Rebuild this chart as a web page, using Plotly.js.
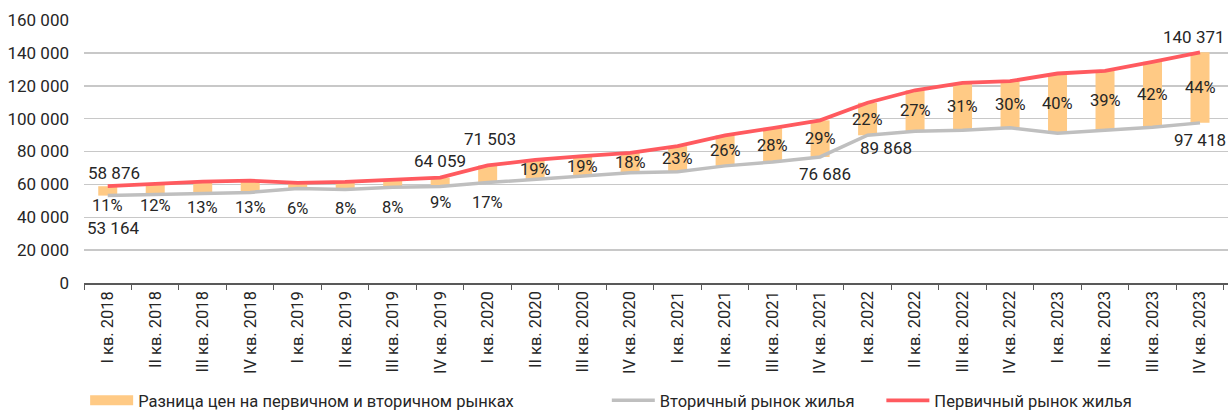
<!DOCTYPE html>
<html>
<head>
<meta charset="utf-8">
<script src="https://cdn.plot.ly/plotly-3.0.1.min.js"></script>
<style>
  html, body { margin: 0; padding: 0; background: #fff; }
  #grafico { width: 1231px; height: 413px; }
</style>
</head>
<body>
<div id="grafico"></div>
<script>
// ---------------------------------------------------------------------
// DATOS
// ---------------------------------------------------------------------
const kvartaly = [
  "I кв. 2018", "II кв. 2018", "III кв. 2018", "IV кв. 2018",
  "I кв. 2019", "II кв. 2019", "III кв. 2019", "IV кв. 2019",
  "I кв. 2020", "II кв. 2020", "III кв. 2020", "IV кв. 2020",
  "I кв. 2021", "II кв. 2021", "III кв. 2021", "IV кв. 2021",
  "I кв. 2022", "II кв. 2022", "III кв. 2022", "IV кв. 2022",
  "I кв. 2023", "II кв. 2023", "III кв. 2023", "IV кв. 2023",
];

// первичный рынок (руб./кв. м)
const pervichnyi = [
  58876, 60460, 61680, 62290, 60900, 61490, 62900, 64059,
  71503, 74900, 77140, 79200, 83260, 89770, 94240, 98925,
  109640, 117250, 121700, 122750, 127450, 129040, 134540, 140371,
];

// вторичный рынок (руб./кв. м)
const vtorichnyi = [
  53164, 53980, 54580, 55120, 57450, 56935, 58240, 58770,
  61110, 62940, 64820, 67120, 67690, 71250, 73630, 76686,
  89868, 92320, 92900, 94420, 91040, 92830, 94750, 97418,
];

// разница, %
const raznicaPct = [
  11, 12, 13, 13, 6, 8, 8, 9,
  17, 19, 19, 18, 23, 26, 28, 29,
  22, 27, 31, 30, 40, 39, 42, 44,
];

// подписи значений: индекс квартала, ряд
const podpisiPerv = [0, 7, 8, 23];
const podpisiVtor = [0, 15, 16, 23];

// ---------------------------------------------------------------------
// ESTILO
// ---------------------------------------------------------------------
const FUENTE = "Roboto, 'Open Sans', sans-serif";
const COLOR_TEXTO = "#262626";
const COLOR_BARRA = "#FFCA85";
const COLOR_ROJO = "#FF5A5F";
const COLOR_GRIS = "#BFBFBF";

const fmtMiles = (v) => String(Math.round(v)).replace(/\B(?=(\d{3})+(?!\d))/g, " ");

// ---------------------------------------------------------------------
// TRAZAS
// ---------------------------------------------------------------------
const trazaRaznica = {
  type: "bar",
  x: kvartaly,
  y: pervichnyi.map((p, i) => p - vtorichnyi[i]),
  base: vtorichnyi,
  width: 0.4,
  marker: { color: COLOR_BARRA },
  showlegend: false,
  hoverinfo: "skip",
};

// solo para la leyenda (muestra franja ancha como en el original)
const trazaLeyendaRaznica = {
  type: "scatter",
  mode: "lines",
  x: [null],
  y: [null],
  name: "Разница цен на первичном и вторичном рынках",
  line: { color: COLOR_BARRA, width: 10 },
  legend: "legend",
};

const trazaVtor = {
  type: "scatter",
  mode: "lines",
  x: kvartaly,
  y: vtorichnyi,
  name: "Вторичный рынок жилья",
  line: { color: COLOR_GRIS, width: 3.5 },
  legend: "legend2",
};

const trazaPerv = {
  type: "scatter",
  mode: "lines",
  x: kvartaly,
  y: pervichnyi,
  name: "Первичный рынок жилья",
  line: { color: COLOR_ROJO, width: 3.8 },
  legend: "legend3",
};

// ---------------------------------------------------------------------
// ANOTACIONES
// ---------------------------------------------------------------------
const fuenteEtiqueta = { family: FUENTE, size: 17, color: COLOR_TEXTO };
const fuentePct = { family: FUENTE, size: 16.5, color: COLOR_TEXTO };

// desplazamiento vertical de los % colocados bajo la linea gris
const desplPctDebajo = [-10, -11, -14, -15, -20, -19, -20, -16, -20];

const anotPct = raznicaPct.map((p, i) => {
  const debajo = i < desplPctDebajo.length;
  return {
    x: kvartaly[i],
    y: debajo ? vtorichnyi[i] : (pervichnyi[i] + vtorichnyi[i]) / 2,
    yshift: debajo ? desplPctDebajo[i] : 0,
    text: p + "%",
    showarrow: false,
    xanchor: "center",
    yanchor: "middle",
    font: fuentePct,
  };
});

const desplPerv = { 0: [6, 1], 7: [0, 5], 8: [2, 14], 23: [-6, 3] };
const desplVtor = { 0: [5, -20], 15: [5, -5], 16: [18, -1], 23: [0, -5] };

const anotPerv = podpisiPerv.map((i) => ({
  x: kvartaly[i], y: pervichnyi[i],
  xshift: desplPerv[i][0], yshift: desplPerv[i][1],
  text: fmtMiles(pervichnyi[i]),
  showarrow: false, xanchor: "center", yanchor: "bottom",
  font: fuenteEtiqueta,
}));

const anotVtor = podpisiVtor.map((i) => ({
  x: kvartaly[i], y: vtorichnyi[i],
  xshift: desplVtor[i][0], yshift: desplVtor[i][1],
  text: fmtMiles(vtorichnyi[i]),
  showarrow: false, xanchor: "center", yanchor: "top",
  font: fuenteEtiqueta,
}));

// ---------------------------------------------------------------------
// LAYOUT
// ---------------------------------------------------------------------
const leyendaBase = {
  orientation: "h",
  yref: "container",
  yanchor: "middle",
  y: 0.03,
  xanchor: "left",
  font: { family: FUENTE, size: 16.5, color: COLOR_TEXTO },
  bgcolor: "rgba(0,0,0,0)",
  itemwidth: 43,
};

const layout = {
  width: 1231,
  height: 413,
  margin: { l: 84, r: 3, t: 20, b: 130 },
  paper_bgcolor: "#fff",
  plot_bgcolor: "#fff",
  font: { family: FUENTE, size: 16, color: COLOR_TEXTO },
  barmode: "overlay",
  xaxis: {
    type: "category",
    automargin: false,
    tickangle: -90,
    ticks: "outside",
    tickson: "boundaries",
    ticklen: 5,
    tickcolor: "#595959",
    showline: true,
    linecolor: "#595959",
    linewidth: 1.5,
    showgrid: false,
    tickfont: { family: FUENTE, size: 16.5, color: COLOR_TEXTO },
  },
  yaxis: {
    automargin: false,
    range: [0, 160000],
    dtick: 20000,
    showgrid: true,
    gridcolor: "#C8C8C8",
    gridwidth: 1.5,
    zeroline: false,
    showline: false,
    ticks: "",
    tickformat: ",d",
    tickfont: { family: FUENTE, size: 17, color: COLOR_TEXTO },
    ticklabelstandoff: 14,
  },
  separators: ", ",
  legend: Object.assign({}, leyendaBase, { x: 0.001 }),
  legend2: Object.assign({}, leyendaBase, { x: 0.457 }),
  legend3: Object.assign({}, leyendaBase, { x: 0.697 }),
  annotations: [...anotPct, ...anotPerv, ...anotVtor],
  showlegend: true,
};

Plotly.newPlot("grafico",
  [trazaRaznica, trazaVtor, trazaPerv, trazaLeyendaRaznica],
  layout,
  { displayModeBar: false, staticPlot: true });
</script>
</body>
</html>
